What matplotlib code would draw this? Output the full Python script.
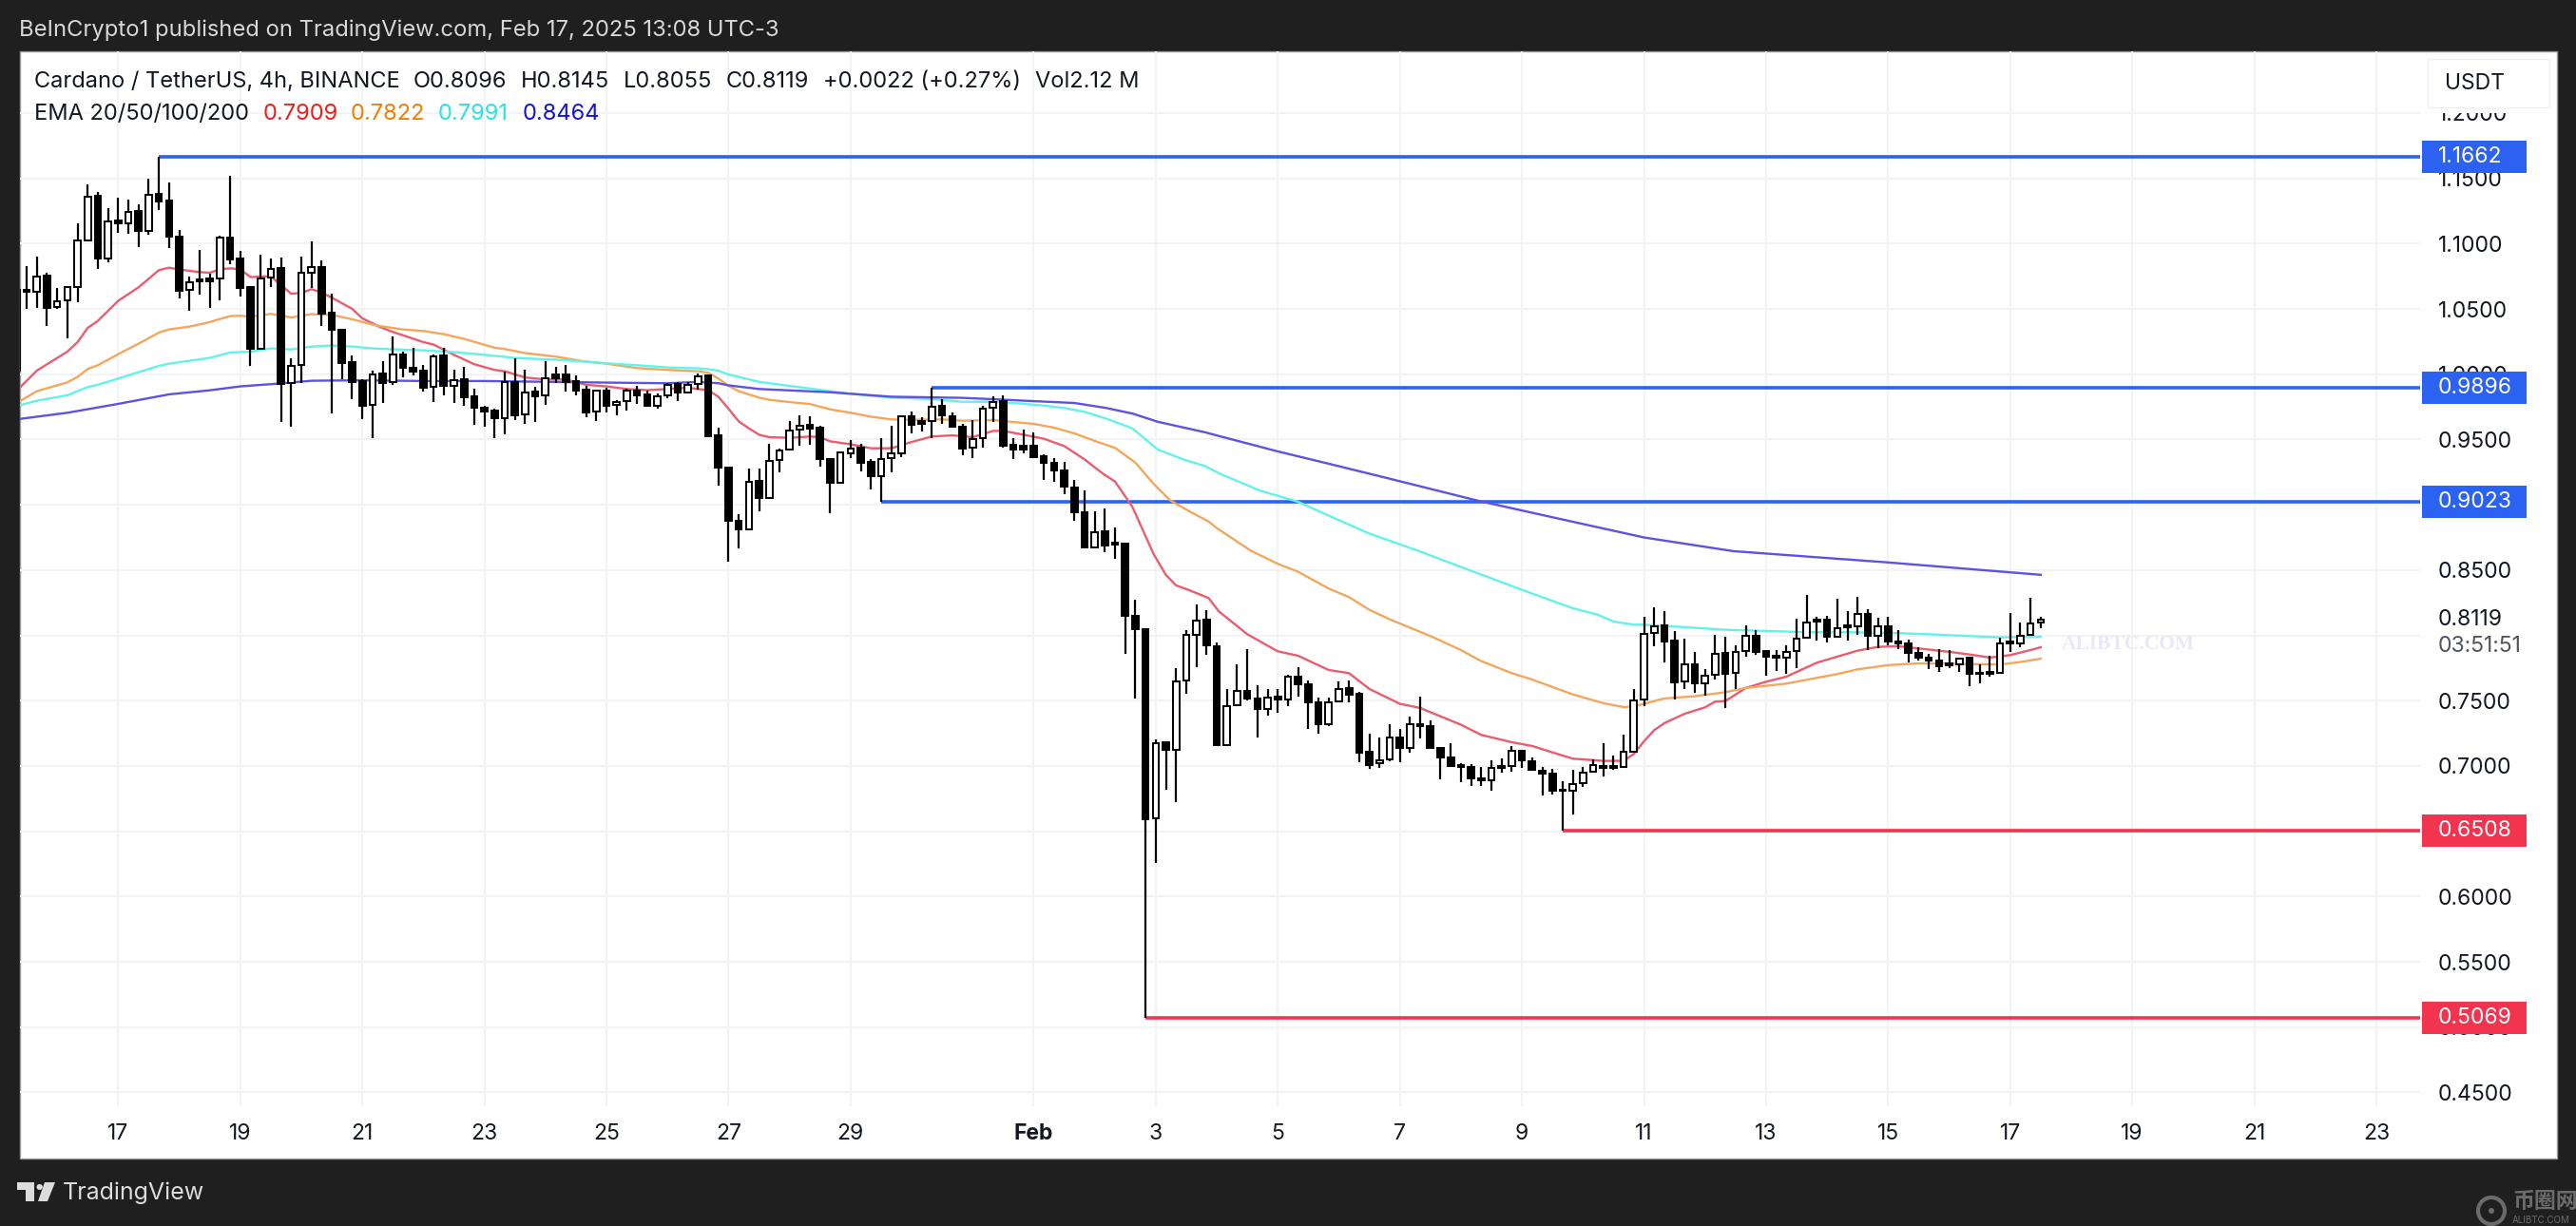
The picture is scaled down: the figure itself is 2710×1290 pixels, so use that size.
import numpy as np
import matplotlib
matplotlib.use("Agg")
import matplotlib.pyplot as plt
from matplotlib.patches import Rectangle, Circle, Polygon

plt.rcParams['font.family'] = ['Inter', 'Noto Sans CJK SC', 'DejaVu Sans']

# 4h candles, first one is number -10, number 0 = Jan 17
opens = [1.0646, 1.0646, 1.0630, 1.0756, 1.0513, 1.0566, 1.0666, 1.1022, 1.1367, 1.0889,
         1.1175, 1.1156, 1.1248, 1.1100, 1.1379, 1.1328, 1.1052, 1.0646, 1.0727, 1.0731,
         1.0731, 1.1044, 1.0884, 1.0666, 1.0198, 1.0741, 1.0811, .9931, 1.0072, 1.0775,
         1.0824, 1.0469, 1.0338, 1.0091, .9950, .9766, 1.0004, .9938, 1.0154, 1.0052,
         1.0028, .9902, 1.0142, .9912, .9960, .9829, .9742, .9720, .9664, .9943,
         .9693, .9868, .9839, .9999, .9999, .9948, .9880, .9718, .9873, .9766,
         .9795, .9873, .9844, .9761, .9839, .9924, .9863, .9924, .9992, .9530,
         .9287, .8875, .8814, .9185, .9052, .9341, .9421, .9576, .9610, .9591,
         .9348, .9166, .9396, .9438, .9329, .9222, .9358, .9396, .9675, .9639,
         .9639, .9760, .9680, .9595, .9438, .9510, .9741, .9792, .9457, .9450,
         .9450, .9372, .9324, .9265, .9134, .8945, .8676, .8797, .8711, .8703,
         .8152, .8046, .6600, .7182, .7127, .7653, .8004, .8119, .7914, .7160,
         .7466, .7578, .7515, .7437, .7529, .7510, .7682, .7626, .7485, .7318,
         .7493, .7597, .7553, .7107, .7020, .7049, .7221, .7136, .7323, .7306,
         .7141, .7068, .7005, .6995, .6906, .6891, .6986, .7003, .7117, .7039,
         .6966, .6940, .6821, .6813, .6867, .6957, .7003, .7000, .6995, .7112,
         .7510, .8019, .8075, .7958, .7645, .7777, .7636, .7699, .7864, .7713,
         .7878, .7995, .7878, .7844, .7830, .7878, .7980, .8121, .8121, .7990,
         .8075, .8068, .8167, .7995, .8072, .7956, .7937, .7864, .7832, .7806,
         .7786, .7777, .7827, .7713, .7718, .7713, .7954, .7937, .8002, .8096]

closes = [1.0028, 1.0632, 1.0751, 1.0508, 1.0562, 1.0666, 1.1022, 1.1362, 1.0889, 1.1173,
          1.1153, 1.1246, 1.1100, 1.1377, 1.1326, 1.1056, 1.0642, 1.0707, 1.0712, 1.0712,
          1.1044, 1.0882, 1.0663, 1.0198, 1.0736, 1.0809, .9926, 1.0067, 1.0775, 1.0824,
          1.0464, 1.0338, 1.0088, .9943, .9761, .9999, .9936, 1.0149, 1.0052, 1.0023,
          .9900, 1.0140, .9912, .9955, .9827, .9742, .9718, .9662, .9941, .9688,
          .9863, .9834, .9972, .9970, .9943, .9878, .9708, .9873, .9761, .9790,
          .9873, .9839, .9761, .9834, .9921, .9863, .9919, .9987, .9528, .9287,
          .8875, .8809, .9178, .9050, .9338, .9416, .9571, .9608, .9586, .9348,
          .9166, .9401, .9433, .9324, .9222, .9353, .9396, .9675, .9615, .9620,
          .9753, .9683, .9595, .9433, .9506, .9739, .9789, .9455, .9426, .9426,
          .9367, .9324, .9265, .9142, .8945, .8674, .8792, .8690, .8695, .8152,
          .8046, .6590, .7174, .7122, .7648, .8004, .8114, .7921, .7157, .7461,
          .7578, .7517, .7437, .7524, .7510, .7682, .7626, .7485, .7318, .7490,
          .7592, .7548, .7104, .7007, .7044, .7218, .7136, .7320, .7303, .7141,
          .7068, .7000, .6990, .6903, .6889, .6988, .7000, .7117, .7044, .6971,
          .6940, .6813, .6811, .6862, .6952, .7005, .6986, .6986, .7112, .7505,
          .8014, .8070, .7954, .7638, .7777, .7631, .7694, .7861, .7709, .7876,
          .7995, .7874, .7840, .7830, .7876, .7978, .8102, .8106, .7990, .8058,
          .8063, .8165, .7995, .8070, .7956, .7937, .7864, .7830, .7806, .7762,
          .7772, .7825, .7704, .7704, .7704, .7941, .7939, .7997, .8092, .8119]

highs = [1.0700, 1.0828, 1.0901, 1.0780, 1.0659, 1.0671, 1.1156, 1.1454, 1.1394, 1.1270,
         1.1350, 1.1338, 1.1301, 1.1496, 1.1662, 1.1466, 1.1107, 1.0751, 1.0950, 1.0768,
         1.1059, 1.1520, 1.0942, 1.0673, 1.0913, 1.0884, 1.0894, 1.0120, 1.0901, 1.1018,
         1.0872, 1.0615, 1.0338, 1.0144, .9960, 1.0028, 1.0101, 1.0290, 1.0174, 1.0203,
         1.0072, 1.0154, 1.0203, 1.0033, 1.0057, .9887, .9756, .9737, 1.0023, 1.0120,
         1.0033, .9902, 1.0101, 1.0057, 1.0072, .9989, .9912, .9883, .9895, .9805,
         .9887, .9914, .9878, .9853, .9931, .9943, .9941, 1.0009, .9999, .9591,
         .9287, .8926, .9275, .9275, .9464, .9433, .9639, .9683, .9675, .9603,
         .9360, .9409, .9498, .9464, .9348, .9510, .9603, .9683, .9712, .9668,
         .9896, .9809, .9705, .9620, .9649, .9760, .9833, .9838, .9510, .9576,
         .9552, .9389, .9360, .9329, .9188, .9110, .8952, .8972, .8823, .8710,
         .8272, .8054, .7207, .7187, .7746, .8039, .8239, .8192, .7944, .7590,
         .7777, .7893, .7616, .7590, .7590, .7699, .7760, .7655, .7522, .7522,
         .7650, .7655, .7565, .7245, .7218, .7323, .7282, .7379, .7529, .7347,
         .7148, .7172, .7024, .7015, .6995, .7044, .7056, .7153, .7121, .7068,
         .6990, .6981, .6886, .6971, .6995, .7049, .7175, .7080, .7238, .7590,
         .8140, .8213, .8184, .8034, .7973, .7874, .7743, .8002, .7990, .7924,
         .8075, .8039, .7888, .7888, .7924, .8128, .8310, .8140, .8148, .8281,
         .8184, .8293, .8199, .8136, .8140, .8039, .7966, .7907, .7857, .7893,
         .7888, .7832, .7837, .7777, .7844, .7985, .8172, .8099, .8286, .8145]

lows = [1.0000, 1.0501, 1.0508, 1.0372, 1.0498, 1.0275, 1.0552, 1.1022, 1.0809, 1.0858,
        1.1083, 1.1076, 1.0974, 1.1066, 1.1258, 1.0969, 1.0581, 1.0489, 1.0610, 1.0508,
        1.0566, 1.0841, 1.0596, 1.0064, 1.0188, 1.0671, .9635, .9601, .9931, 1.0659,
        1.0372, .9700, .9960, .9810, .9659, .9514, .9781, .9917, .9975, .9992,
        .9870, .9790, .9839, .9781, .9761, .9616, .9601, .9514, .9538, .9652,
        .9621, .9635, .9766, .9936, .9870, .9839, .9674, .9645, .9708, .9688,
        .9722, .9773, .9752, .9737, .9819, .9795, .9853, .9883, .9523, .9149,
        .8567, .8669, .8809, .8948, .9052, .9251, .9416, .9450, .9457, .9295,
        .8933, .9159, .9360, .9256, .9117, .9023, .9251, .9367, .9547, .9561,
        .9510, .9620, .9591, .9382, .9360, .9440, .9634, .9440, .9353, .9396,
        .9367, .9190, .9178, .9081, .8877, .8664, .8666, .8639, .8585, .7858,
        .7513, .5069, .6260, .6818, .6726, .7553, .7753, .7853, .7152, .7160,
        .7461, .7500, .7218, .7388, .7408, .7461, .7534, .7282, .7250, .7306,
        .7485, .7485, .7032, .6981, .6983, .7039, .7032, .7104, .7209, .7141,
        .6898, .6995, .6874, .6850, .6850, .6813, .6952, .6959, .6983, .6966,
        .6772, .6784, .6508, .6631, .6838, .6952, .6923, .6971, .6990, .7104,
        .7461, .7917, .7796, .7510, .7590, .7561, .7539, .7665, .7444, .7590,
        .7840, .7854, .7694, .7728, .7704, .7752, .7975, .7961, .7946, .7985,
        .7961, .8002, .7888, .7905, .7922, .7898, .7791, .7808, .7743, .7723,
        .7752, .7723, .7614, .7636, .7687, .7709, .7874, .7912, .7995, .8055]

ema20_x = [-9.75, -8, -5, -4, -3, -2, 0, 2, 4, 5, 6, 8, 9, 10, 11, 12, 13, 15, 16, 17, 18, 19, 20, 21, 23, 24,
           25.7, 27, 30, 31, 33, 35, 37, 38, 40, 42, 44, 46, 48, 50, 52, 54, 56, 57, 58, 59, 60, 61, 62, 63,
           64, 66, 68, 69, 70, 72, 74, 76, 78, 80, 82, 84, 86, 87, 89, 91, 93, 95, 96.8, 98, 99.7, 101.8,
           103, 104, 105.2, 107.2, 108.2, 111, 114, 116, 119, 121, 123, 126, 128, 132, 134, 137, 139, 141,
           143, 146, 148, 149, 150, 151, 152, 154, 156, 157, 158, 160, 162, 164, 167, 169, 171, 173, 175,
           177, 180, 182, 184, 186, 188, 189]
ema20 = [.9892, 1.0028, 1.0173, 1.0246, 1.0355, 1.0409, 1.0562, 1.0666, 1.0797, 1.0816, 1.0802, 1.0782, 1.0777,
         1.0804, 1.0811, 1.0804, 1.0744, 1.0751, 1.0683, 1.0617, 1.0622, 1.0651, 1.0627, 1.0586, 1.0501, 1.0428,
         1.0363, 1.0324, 1.0246, 1.0227, 1.0149, 1.0077, 1.0033, 1.0023, .9975, .9960, .9960, .9919, .9907,
         .9887, .9878, .9887, .9897, .9887, .9878, .9828, .9736, .9639, .9586, .9537,
         .9518, .9513, .9523, .9518, .9486, .9464, .9433, .9433, .9481, .9523, .9532, .9518, .9566, .9566,
         .9537, .9506, .9450, .9348, .9239, .9178, .8985, .8621,
         .8463, .8383, .8349, .8286, .8184, .8009, .7878, .7844, .7735, .7711, .7590, .7476, .7444, .7316,
         .7238, .7182, .7153, .7104, .7056, .7039, .7039, .7092, .7189, .7274, .7328, .7400, .7449, .7493,
         .7497, .7597, .7645, .7684, .7791, .7837, .7883, .7912, .7917,
         .7900, .7874, .7854, .7830, .7849, .7888, .7909]

ema50_x = [-9.75, -8, -5, -4, -3, -2, 0, 2, 4, 5, 7, 9, 10, 11, 12, 13, 15, 17, 19, 21, 23, 25,
           25.8, 28, 30, 32, 34, 37, 38, 40, 43, 46, 48, 51, 54, 57, 58, 59, 60, 61, 63, 64, 66, 68, 70,
           72, 74, 76, 78, 81, 83, 86, 88, 90, 92, 94, 96, 98, 100, 101.8, 103.4, 105.5, 107.2, 108,
           111.3, 114, 116, 119, 121, 123, 125, 129, 132, 134, 137, 139, 143, 146, 148, 149, 150, 152,
           155, 158, 160, 162, 164, 167, 169, 171, 174, 177, 180, 183, 185, 187, 189]
ema50 = [.9790, .9870, .9938, .9979, 1.0040, 1.0069, 1.0154, 1.0234, 1.0319, 1.0343, 1.0365, 1.0399, 1.0423,
         1.0445, 1.0448, 1.0440, 1.0462, 1.0435, 1.0460, 1.0455, 1.0421, 1.0380,
         1.0368, 1.0343, 1.0331, 1.0307, 1.0271, 1.0203, 1.0193, 1.0162, 1.0135, 1.0096, 1.0081, 1.0047, 1.0033,
         1.0023, 1.0012, .9967, .9911, .9870, .9821, .9804, .9787, .9772, .9731,
         .9705, .9675, .9654, .9651, .9654, .9644, .9649, .9634, .9620, .9591, .9547, .9489, .9436, .9323,
         .9160, .9035, .8942, .8872, .8822, .8651, .8548, .8487, .8359, .8293, .8196, .8123, .7995, .7888,
         .7803, .7711, .7662, .7548, .7481, .7451, .7456, .7476, .7517, .7534, .7565, .7597, .7614, .7631,
         .7675, .7704, .7740, .7772, .7786, .7784, .7779, .7777, .7796, .7822]

ema100_x = [-9.75, -8, -5, -3, -2, 0, 2, 4, 5, 9, 11, 13, 15, 17, 19, 21, 23, 25, 28, 30, 33, 36, 39, 43, 46, 48,
            51, 54, 57, 58, 59, 60, 63, 66, 70, 72, 76, 80, 83, 86, 88, 91, 93, 95, 97.1, 99.7, 102.2, 104.7,
            106.8, 108.4, 112.2, 116, 119.2, 123, 127.9, 132, 138, 143, 145.4, 147, 149, 150, 154, 158, 162,
            166, 170, 174, 178, 182, 185, 189]
ema100 = [.9761, .9797, .9839, .9902, .9919, .9967, 1.0016, 1.0064, 1.0081, 1.0125, 1.0166, 1.0173, 1.0198, 1.0190,
          1.0212, 1.0220, 1.0212, 1.0198, 1.0188, 1.0183, 1.0169, 1.0149, 1.0125, 1.0111, 1.0096, 1.0084,
          1.0069, 1.0052, 1.0045, 1.0039, 1.0027, .9998, .9942, .9911, .9870, .9850, .9821, .9809, .9789, .9789,
          .9780, .9760, .9741, .9712, .9661, .9586, .9423, .9348,
          .9298, .9235, .9110, .9023, .8910, .8780, .8645, .8524, .8349, .8208, .8160, .8106, .8082, .8082,
          .8063, .8043, .8034, .8024, .8024, .8019, .8009, .7995, .7985, .7991]

ema200_x = [-9.75, -5, 0, 5, 9, 12, 15, 19, 23, 25, 30, 36, 43, 48, 54, 57, 59, 60, 63, 70, 76, 83, 86, 90, 94,
            97.1, 99.7, 102.2, 106.8, 113.9, 119.2, 125, 133.7, 140, 150, 158.8, 166, 173.8, 189]
ema200 = [.9657, .9705, .9773, .9846, .9877, .9907, .9924, .9950, .9953, .9953, .9948, .9948, .9941, .9936, .9931,
          .9941, .9931, .9915, .9887, .9862, .9828, .9819, .9809, .9794, .9780,
          .9742, .9699, .9636, .9556, .9411, .9311, .9200, .9031, .8922, .8750, .8645, .8604, .8560, .8464]

# level: (price, first candle number, colour)
level_prices = [1.1662, .9896, .9023, .6508, .5069]
level_starts = [4, 80, 75, 142, 101]
level_labels = ['1.1662', '0.9896', '0.9023', '0.6508', '0.5069']
level_colors = ['#2b62f2', '#2b62f2', '#2b62f2', '#f2344f', '#f2344f']

price_ticks = [.45, .50, .55, .60, .65, .70, .75, .80, .85, .90, .95, 1.00, 1.05, 1.10, 1.15, 1.20]
price_tick_hidden = [.65, .80, .90]
date_ticks = [0, 12, 24, 36, 48, 60, 72, 90, 102, 114, 126, 138, 150, 162, 174, 186, 198, 210, 222]
date_labels = ['17', '19', '21', '23', '25', '27', '29', 'Feb', '3', '5', '7', '9', '11', '13', '15', '17', '19',
               '21', '23']

W, H = 2710, 1290
DARK = '#1f1f1f'
INK = '#131722'


def fx(x):
    return x / W


def fy(y):
    return 1 - y / H


def main():
    fig = plt.figure(figsize=(W / 100, H / 100), dpi=100, facecolor=DARK)

    # white panel behind the chart
    fig.add_artist(Rectangle((fx(21), fy(1219)), 2669 / W, 1165 / H, transform=fig.transFigure,
                             facecolor='white', edgecolor='#9a9a9a', linewidth=1, zorder=-1))

    ax = fig.add_axes([fx(21), fy(1164), 2525 / W, 1110 / H])
    ax.patch.set_alpha(0)
    for spine in ax.spines.values():
        spine.set_visible(False)
    ax.set_xlim(-9.66, 226.3)
    ax.set_ylim(.4394, 1.2473)
    ax.set_axisbelow(True)
    ax.grid(True, color='#f2f3f5', linewidth=1.5)

    ax.yaxis.tick_right()
    ax.set_yticks(price_ticks)
    ax.set_yticklabels(['' if p in price_tick_hidden else '%.4f' % p for p in price_ticks], fontsize=16.5, color=INK)
    ax.set_xticks(date_ticks)
    ax.set_xticklabels(date_labels, fontsize=16.5, color=INK)
    ax.get_xticklabels()[7].set_fontweight('bold')
    ax.tick_params(axis='both', length=0)
    ax.tick_params(axis='y', pad=13.5)
    ax.tick_params(axis='x', pad=13)

    # levels first, the EMAs and the candles sit on top of them
    side = ax.get_yaxis_transform()
    for price, start, label, color in zip(level_prices, level_starts, level_labels, level_colors):
        ax.hlines(price, start, 226.3, color=color, linewidth=2.6, zorder=2)
        ax.add_patch(Rectangle((1.0008, price - .0124), .0436, .0248, transform=side, clip_on=False,
                               facecolor=color, edgecolor='none', zorder=10))
        ax.text(1.0075, price, label, transform=side, color='white', fontsize=16.5, va='center', ha='left', zorder=11)

    ax.plot(ema20_x, ema20, color='#ea5c6e', linewidth=1.7, zorder=3)
    ax.plot(ema50_x, ema50, color='#f3a75c', linewidth=1.7, zorder=3)
    ax.plot(ema100_x, ema100, color='#62f2ea', linewidth=1.7, zorder=3)
    ax.plot(ema200_x, ema200, color='#5d52e2', linewidth=1.7, zorder=3)

    nums = np.arange(-10, 190)
    o = np.array(opens)
    c = np.array(closes)
    ax.vlines(nums, lows, highs, color='black', linewidth=1.6, zorder=4)
    body_colors = ['white' if cl >= op else 'black' for op, cl in zip(o, c)]
    ax.bar(nums, np.abs(c - o), bottom=np.minimum(o, c), width=.62, color=body_colors, edgecolor='black',
           linewidth=1.4, zorder=5)

    # last price and countdown on the price scale
    ax.text(1.0075, .8119, '0.8119', transform=side, color=INK, fontsize=16.5, va='center', zorder=9)
    ax.text(1.0075, .7917, '03:51:51', transform=side, color='#50535e', fontsize=16.5, va='center', zorder=9)

    # currency button, hides most of the 1.2000 label
    ax.add_patch(Rectangle((1.0032, 1.2003), .0507, .0413, transform=side, clip_on=False, facecolor='white',
                           edgecolor='none', zorder=9))
    ax.add_patch(Rectangle((1.0032, 1.2045), .0507, .0371, transform=side, clip_on=False, facecolor='none',
                           edgecolor='#f0f0f2', linewidth=1, zorder=10))
    fig.text(fx(2604), fy(88), 'USDT', color=INK, fontsize=16.5, ha='center', va='center')

    # watermark
    fig.text(fx(2169), fy(678), 'ALIBTC.COM', color='#e8e8f8', fontsize=15.5, family='Liberation Serif',
             fontweight='bold', ha='left', va='center')

    # top bar and legend
    fig.text(fx(20), fy(32), 'BeInCrypto1 published on TradingView.com, Feb 17, 2025 13:08 UTC-3', color='#d8d8d8',
             fontsize=17.1, ha='left', va='center')
    row1 = [(36, 'Cardano / TetherUS, 4h, BINANCE'), (435, 'O0.8096'), (548, 'H0.8145'), (656, 'L0.8055'),
            (764, 'C0.8119'), (866, '+0.0022 (+0.27%)'), (1089, 'Vol2.12 M')]
    for x, s in row1:
        fig.text(fx(x), fy(86), s, color=INK, fontsize=17, ha='left', va='center')
    row2 = [(36, 'EMA 20/50/100/200', INK), (277, '0.7909', '#f21c1c'), (369, '0.7822', '#f57c00'),
            (461, '0.7991', '#22e6e6'), (550, '0.8464', '#1414d8')]
    for x, s, color in row2:
        fig.text(fx(x), fy(120), s, color=color, fontsize=17, ha='left', va='center')

    # TradingView mark in the bottom bar
    mark = '#dcdcdc'
    fig.add_artist(Polygon([(fx(18), fy(1244)), (fx(36), fy(1244)), (fx(36), fy(1264)), (fx(27), fy(1264)),
                            (fx(27), fy(1252)), (fx(18), fy(1252))], closed=True, transform=fig.transFigure,
                           facecolor=mark, edgecolor='none'))
    fig.add_artist(Polygon([(fx(47), fy(1244)), (fx(58), fy(1244)), (fx(50), fy(1264)), (fx(40), fy(1264))],
                           closed=True, transform=fig.transFigure, facecolor=mark, edgecolor='none'))
    fig.text(fx(41), fy(1248), '\u25cf', color=mark, fontsize=6, ha='center', va='center', family='DejaVu Sans')
    fig.text(fx(66), fy(1255), 'TradingView', color=mark, fontsize=18, ha='left', va='center')

    # site stamp, bottom right corner
    stamp = '#6b6b6b'
    fig.add_artist(Circle((2621, H - 1274), 14, transform=None, facecolor='none', edgecolor=stamp, linewidth=3))
    fig.add_artist(Circle((2621, H - 1274), 3, transform=None, facecolor=stamp, edgecolor='none'))
    fig.text(fx(2643), fy(1265), '币圈网', color=stamp, fontsize=16.5, ha='left', va='center', fontweight='bold')
    fig.text(fx(2643), fy(1284), 'ALIBTC.COM', color=stamp, fontsize=7, ha='left', va='center')

    fig.savefig('out.png', dpi=100, facecolor=DARK)


if __name__ == '__main__':
    main()
